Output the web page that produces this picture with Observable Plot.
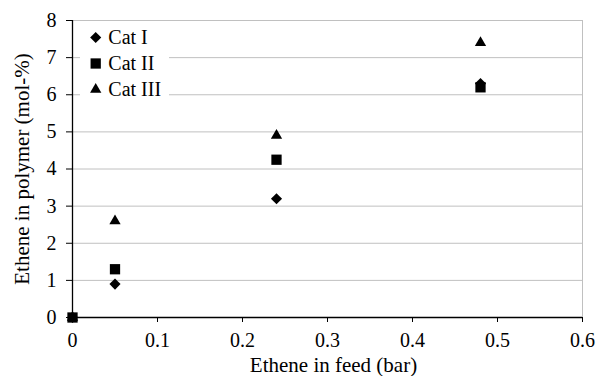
<!DOCTYPE html>
<html><head><meta charset="utf-8">
<script src="https://cdn.jsdelivr.net/npm/d3@7"></script>
<script src="https://cdn.jsdelivr.net/npm/@observablehq/plot@0.6"></script>
<style>body{margin:0;background:#fff}#chart{width:596px;height:376px}
#chart svg, #chart svg text{font-family:"Liberation Serif","Times New Roman",serif !important;}</style>
</head><body><div id="chart"></div>
<script>
// Data
const feed = [0, 0.05, 0.24, 0.48];
const catI = [0, 0.9, 3.2, 6.3];
const catII = [0, 1.3, 4.25, 6.2];
const catIII = [0, 2.6, 4.9, 7.4];
const seriesNames = ["Cat I", "Cat II", "Cat III"];
const seriesSymbols = ["diamond2", "square", "triangle"];
const seriesR = [5.0, 5.8, 4.2];
const xTicks = [0, 0.1, 0.2, 0.3, 0.4, 0.5, 0.6];
const yTicks = [0, 1, 2, 3, 4, 5, 6, 7, 8];
const xLabel = "Ethene in feed (bar)";
const yLabel = "Ethene in polymer (mol-%)";

const seriesValues = [catI, catII, catIII];
const rows = seriesValues.map((ys, k) => feed.map((x, i) => ({x, y: ys[i], series: seriesNames[k]})));
const grid = "#c0c0c0";
const font = "'Liberation Serif', 'Times New Roman', serif";

const drawOrder = [2, 0, 1];
const chart = Plot.plot({
  width: 596, height: 376,
  marginLeft: 72, marginRight: 14, marginTop: 20, marginBottom: 59,
  style: {fontFamily: font, fontSize: "20px", color: "black", background: "white", overflow: "visible"},
  x: {domain: [0, 0.6]},
  y: {domain: [0, 8]},
  marks: [
    Plot.gridY(yTicks.slice(1), {stroke: grid, strokeOpacity: 1, strokeWidth: 1}),
    Plot.ruleX([xTicks[xTicks.length - 1]], {stroke: grid, strokeWidth: 1}),
    Plot.axisY(yTicks, {tickSize: 6, tickPadding: 10, fontSize: 20, fontFamily: font, fontVariant: "normal", label: null}),
    Plot.axisX(xTicks, {tickSize: 5, tickPadding: 10, fontSize: 20, fontFamily: font, fontVariant: "normal", tickFormat: d => String(d), label: null}),
    Plot.text([yLabel], {frameAnchor: "left", rotate: -90, dx: -58, lineAnchor: "top", textAnchor: "middle", fontSize: 21, fontFamily: font, fill: "black"}),
    Plot.text([xLabel], {frameAnchor: "bottom", dx: 6, dy: 54, lineAnchor: "bottom", textAnchor: "middle", fontSize: 21, fontFamily: font, fill: "black"}),
    Plot.ruleY([0], {stroke: "black", strokeWidth: 1.3}),
    Plot.ruleX([0], {stroke: "black", strokeWidth: 1.3}),
    ...drawOrder.map(k => Plot.dot(rows[k], {x: "x", y: "y", symbol: seriesSymbols[k], r: seriesR[k], fill: "black", stroke: "none"}))
  ]
});
document.getElementById("chart").append(chart);

// Legend (inside the plot frame, top-left, on a white box)
const svg = d3.select(chart);
const lg = svg.append("g").attr("transform", "translate(80,22)");
lg.append("rect").attr("width", 89).attr("height", 80).attr("fill", "white");
const symMap = {diamond2: d3.symbolDiamond2, square: d3.symbolSquare, triangle: d3.symbolTriangle};
seriesNames.forEach((name, k) => {
  const row = lg.append("g").attr("transform", `translate(0,${k * 26})`);
  row.append("path")
    .attr("d", d3.symbol(symMap[seriesSymbols[k]], seriesR[k] * seriesR[k] * Math.PI)())
    .attr("transform", "translate(15.7,15.5)")
    .attr("fill", "black");
  row.append("text").attr("x", 28.3).attr("y", 22)
    .attr("text-anchor", "start")
    .attr("font-family", font).attr("font-size", 20).attr("fill", "black")
    .text(name);
});
</script>
</body></html>
